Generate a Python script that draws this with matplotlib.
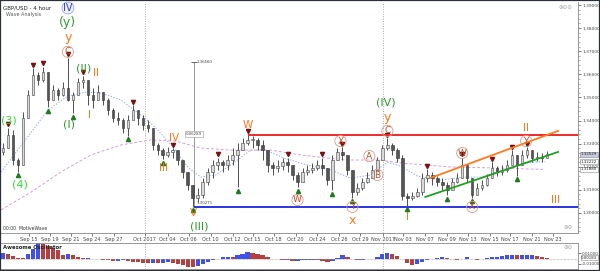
import numpy as np
import matplotlib.pyplot as plt
from matplotlib.transforms import blended_transform_factory, offset_copy
from matplotlib.patches import Rectangle

# GBP/USD 4h, one bar here = two 4h candles
closes = [1.3281, 1.3337, 1.3229, 1.3207, 1.3411, 1.3510, 1.3597, 1.3575, 1.3610, 1.3489,
          1.3532, 1.3510, 1.3541, 1.3489, 1.3510, 1.3567, 1.3575, 1.3510, 1.3489, 1.3523,
          1.3489, 1.3445, 1.3411, 1.3402, 1.3368, 1.3402, 1.3445, 1.3411, 1.3381, 1.3368,
          1.3294, 1.3272, 1.3251, 1.3264, 1.3272, 1.3229, 1.3177, 1.3121, 1.3065, 1.3077,
          1.3134, 1.3177, 1.3207, 1.3220, 1.3207, 1.3229, 1.3251, 1.3272, 1.3303, 1.3316,
          1.3316, 1.3294, 1.3272, 1.3207, 1.3194, 1.3203, 1.3220, 1.3207, 1.3164, 1.3134,
          1.3177, 1.3186, 1.3194, 1.3207, 1.3194, 1.3142, 1.3229, 1.3264, 1.3251, 1.3186,
          1.3090, 1.3108, 1.3134, 1.3151, 1.3186, 1.3229, 1.3281, 1.3294, 1.3272, 1.3238,
          1.3073, 1.3065, 1.3073, 1.3090, 1.3151, 1.3164, 1.3151, 1.3134, 1.3121, 1.3099,
          1.3134, 1.3151, 1.3207, 1.3151, 1.3077, 1.3108, 1.3121, 1.3151, 1.3194, 1.3177,
          1.3186, 1.3207, 1.3251, 1.3207, 1.3251, 1.3272, 1.3238, 1.3242, 1.3238, 1.3253]
highs = [1.3303, 1.3368, 1.3359, 1.3238, 1.3437, 1.3532, 1.3627, 1.3610, 1.3632, 1.3575,
         1.3554, 1.3541, 1.3567, 1.3671, 1.3523, 1.3584, 1.3593, 1.3575, 1.3541, 1.3554,
         1.3523, 1.3497, 1.3454, 1.3437, 1.3411, 1.3424, 1.3467, 1.3445, 1.3424, 1.3402,
         1.3368, 1.3303, 1.3281, 1.3285, 1.3281, 1.3272, 1.3229, 1.3177, 1.3121, 1.3108,
         1.3151, 1.3194, 1.3229, 1.3238, 1.3229, 1.3251, 1.3281, 1.3303, 1.3324, 1.3338,
         1.3333, 1.3324, 1.3316, 1.3251, 1.3220, 1.3229, 1.3238, 1.3238, 1.3207, 1.3177,
         1.3194, 1.3207, 1.3216, 1.3229, 1.3238, 1.3186, 1.3251, 1.3281, 1.3285, 1.3251,
         1.3164, 1.3129, 1.3151, 1.3177, 1.3207, 1.3242, 1.3294, 1.3324, 1.3303, 1.3281,
         1.3251, 1.3086, 1.3090, 1.3108, 1.3173, 1.3190, 1.3177, 1.3160, 1.3151, 1.3134,
         1.3151, 1.3173, 1.3238, 1.3207, 1.3142, 1.3129, 1.3142, 1.3168, 1.3220, 1.3203,
         1.3207, 1.3229, 1.3272, 1.3251, 1.3272, 1.3285, 1.3272, 1.3264, 1.3259, 1.3268]
lows = [1.3251, 1.3281, 1.3207, 1.3177, 1.3207, 1.3411, 1.3523, 1.3554, 1.3567, 1.3458,
        1.3497, 1.3489, 1.3506, 1.3485, 1.3432, 1.3510, 1.3541, 1.3467, 1.3454, 1.3489,
        1.3467, 1.3424, 1.3394, 1.3381, 1.3346, 1.3333, 1.3411, 1.3381, 1.3359, 1.3350,
        1.3272, 1.3251, 1.3233, 1.3242, 1.3238, 1.3207, 1.3151, 1.3099, 1.3027, 1.3047,
        1.3065, 1.3121, 1.3151, 1.3186, 1.3177, 1.3186, 1.3207, 1.3112, 1.3272, 1.3294,
        1.3281, 1.3272, 1.3229, 1.3177, 1.3164, 1.3177, 1.3186, 1.3177, 1.3142, 1.3112,
        1.3142, 1.3164, 1.3173, 1.3186, 1.3164, 1.3121, 1.3099, 1.3238, 1.3229, 1.3164,
        1.3065, 1.3077, 1.3099, 1.3129, 1.3151, 1.3186, 1.3229, 1.3272, 1.3251, 1.3220,
        1.3056, 1.3030, 1.3056, 1.3069, 1.3077, 1.3134, 1.3121, 1.3116, 1.3099, 1.3077,
        1.3099, 1.3129, 1.3151, 1.3134, 1.3065, 1.3082, 1.3099, 1.3116, 1.3151, 1.3160,
        1.3164, 1.3177, 1.3207, 1.3160, 1.3220, 1.3238, 1.3220, 1.3225, 1.3220, 1.3238]
first_open = 1.3262

# awesome oscillator, same bars
ao = [0.0100, 0.0073, 0.0046, 0.0018, 0.0009, 0.0082, 0.0173, 0.0282, 0.0255, 0.0228,
      0.0191, 0.0155, 0.0064, 0.0082, 0.0055, 0.0027, 0.0009, 0.0018, 0.0000, -0.0018,
      -0.0027, -0.0036, -0.0046, -0.0046, -0.0036, -0.0046, -0.0055, -0.0064, -0.0073, -0.0082,
      -0.0082, -0.0085, -0.0073, -0.0064, -0.0073, -0.0100, -0.0127, -0.0146, -0.0155, -0.0137,
      -0.0100, -0.0064, -0.0027, 0.0000, 0.0027, 0.0036, 0.0027, 0.0064, 0.0091, 0.0118,
      0.0109, 0.0082, 0.0055, 0.0027, 0.0000, -0.0018, -0.0036, -0.0036, -0.0046, -0.0046,
      -0.0036, -0.0027, -0.0027, -0.0036, -0.0046, -0.0064, -0.0046, 0.0009, 0.0064, 0.0036,
      -0.0009, -0.0036, -0.0036, -0.0018, 0.0000, 0.0036, 0.0082, 0.0100, 0.0091, 0.0046,
      -0.0018, -0.0082, -0.0118, -0.0100, -0.0064, -0.0027, 0.0000, 0.0018, 0.0027, 0.0018,
      -0.0009, -0.0027, -0.0009, 0.0027, 0.0000, -0.0027, -0.0018, 0.0009, 0.0027, 0.0036,
      0.0046, 0.0055, 0.0064, 0.0055, 0.0055, 0.0064, 0.0064, 0.0046, 0.0027, 0.0018]

# moving averages read at a few bars
fast_ma_bars = [-0.4, 9, 13, 16.6, 19.6, 23.6, 28.2, 31, 34.2, 37, 39.6, 42.6, 45.6, 49.6, 52.6,
                56.2, 61, 65.6, 69.6, 73.6, 77, 79.6, 83, 87.6, 92.2, 95.6, 100.2, 104.2, 108.6]
fast_ma = [1.3177, 1.3445, 1.3506, 1.3523, 1.3519, 1.3489, 1.3415, 1.3359, 1.3281, 1.3199,
           1.3155, 1.3164, 1.3207, 1.3272, 1.3272, 1.3238, 1.3207, 1.3186, 1.3151, 1.3164,
           1.3220, 1.3203, 1.3160, 1.3142, 1.3155, 1.3155, 1.3186, 1.3216, 1.3222]
slow_ma_bars = [-0.4, 5.6, 11.6, 17.6, 23.6, 29.6, 34.6, 39.6, 45.6, 53.6, 59.6, 68.6, 75.6,
                79.6, 89.6, 99.6, 108.6]
slow_ma = [1.3013, 1.3090, 1.3177, 1.3251, 1.3294, 1.3316, 1.3311, 1.3281, 1.3272, 1.3272,
           1.3251, 1.3229, 1.3229, 1.3216, 1.3199, 1.3194, 1.3188]

# fractal marks (bar numbers)
top_bars = [1, 6, 8, 13, 16, 26, 34, 43, 49, 57, 64, 68, 77, 85, 92, 98, 102, 105]
bottom_bars = [3, 9, 14, 25, 32, 38, 47, 59, 66, 70, 81, 89, 94, 103]

resistance = 1.3338
support = 1.3027
upper_channel = ([85.6, 111.2], [1.3151, 1.3355])
lower_channel = ([84.6, 111.2], [1.3069, 1.3264])

date_labels = ["Sep 15", "Sep 19", "Sep 21", "Sep 24", "Sep 27", "Oct 2017", "Oct 04", "Oct 06",
               "Oct 10", "Oct 12", "Oct 15", "Oct 18", "Oct 20", "Oct 24", "Oct 26", "Oct 29",
               "Nov 2017", "Nov 03", "Nov 07", "Nov 09", "Nov 13", "Nov 15", "Nov 17", "Nov 21",
               "Nov 23"]
date_bars = [5.2, 9.4, 13.6, 17.8, 22.2, 28.4, 33, 37.2, 41.6, 46, 50, 54.2, 58.6, 63, 67.4,
             71.6, 76.2, 80.2, 84.6, 89, 93.2, 97.6, 101.6, 106, 110.2]
month_bars = [28.4, 76.2]

x = np.arange(len(closes))
c = np.array(closes)
o = np.array([first_open] + closes[:-1])
h = np.maximum(np.array(highs), np.maximum(o, c))
l = np.minimum(np.array(lows), np.minimum(o, c))

small = ["Liberation Sans Narrow", "DejaVu Sans"]

fig = plt.figure(figsize=(6, 2.71), dpi=100)
ax = fig.add_axes([0.0017, 0.1402, 0.9617, 0.8524])
ax2 = fig.add_axes([0.0017, 0.0074, 0.9617, 0.0959], sharex=ax)

# candles
ax.vlines(x, l, h, color="#333333", lw=0.6, zorder=3)
up = c >= o
body_h = np.maximum(np.abs(c - o), 0.00025)
ax.bar(x[up], body_h[up], bottom=np.minimum(o, c)[up], width=0.5,
       color="#d9d9d9", edgecolor="#444444", lw=0.4, zorder=4)
ax.bar(x[~up], body_h[~up], bottom=np.minimum(o, c)[~up], width=0.5,
       color="#555555", edgecolor="#333333", lw=0.4, zorder=4)

ax.plot(fast_ma_bars, fast_ma, color="#8fb0f0", lw=0.7, ls=(0, (1.5, 1.5)), zorder=2)
ax.plot(slow_ma_bars, slow_ma, color="#d9a0d9", lw=0.7, ls=(0, (3, 2)), zorder=2)

# fractals
top_off = offset_copy(ax.transData, fig=fig, y=2.5, units="points")
bot_off = offset_copy(ax.transData, fig=fig, y=-2.5, units="points")
ax.plot(top_bars, h[top_bars], "v", ms=3, color="#7a1010", transform=top_off, zorder=5)
ax.plot(bottom_bars, l[bottom_bars], "^", ms=3, color="#1f7a1f", transform=bot_off, zorder=5)

# levels and channel
ax.hlines(resistance, 49, 115.2, color="#ee2a2a", lw=1.4, zorder=6)
ax.hlines(support, 38.2, 115.2, color="#2a35e0", lw=1.4, zorder=6)
ax.plot(*upper_channel, color="#ff7a1a", lw=1.3, zorder=6)
ax.plot(*lower_channel, color="#20a020", lw=1.3, zorder=6)

# measuring tool
ax.vlines(38.2, 1.3027, 1.3653, color="#999999", lw=0.7, zorder=2)
ax.hlines(1.3653, 37.6, 38.8, color="#666666", lw=0.7)
ax.text(38.8, 1.3653, "1.36560", fontsize=2.8, va="center", color="#444", family=small)
ax.text(38.2, 1.3342, "0.06289", fontsize=2.8, ha="center", va="center", color="#444",
        family=small, bbox=dict(boxstyle="square,pad=0.2", fc="white", ec="#999", lw=0.4),
        zorder=7)
ax.text(38.8, 1.3043, "1.30271", fontsize=2.8, va="center", color="#444", family=small)

for mb in month_bars:
    ax.axvline(mb, color="#aaaaaa", lw=0.7, ls=(0, (1, 1.5)), zorder=1)
    ax2.axvline(mb, color="#aaaaaa", lw=0.7, ls=(0, (1, 1.5)), zorder=1)

# wave labels
orange = "#ff7418"
dgreen = "#2f9a2f"
lgreen = "#33dd33"
brown = "#bb4d2a"
plain = [
    ("(3)", 1.2, 1.3402, lgreen, 8), ("(4)", 3.4, 1.3121, lgreen, 8),
    ("(I)", 13.2, 1.3381, dgreen, 8), ("I", 17.4, 1.3424, orange, 7.5),
    ("(II)", 16.2, 1.3627, dgreen, 8), ("II", 18.6, 1.3606, orange, 7.5),
    ("y", 13, 1.3761, orange, 9), ("(y)", 13, 1.3826, dgreen, 9),
    ("III", 32.2, 1.3194, orange, 7.5), ("IV", 34.2, 1.3324, orange, 7.5),
    ("V", 38.2, 1.3000, orange, 7.5), ("(III)", 39.4, 1.2939, dgreen, 8),
    ("W", 49, 1.3381, orange, 7.5), ("x", 70, 1.2969, orange, 9),
    ("y", 77, 1.3415, orange, 9), ("(IV)", 76.6, 1.3476, dgreen, 8),
    ("I", 81, 1.2982, orange, 7.5), ("II", 104.8, 1.3368, orange, 7.5),
    ("III", 110.6, 1.3056, orange, 7.5),
]
for txt, bx, py, col, fs in plain:
    ax.text(bx, py, txt, color=col, fontsize=fs, ha="center", va="center", zorder=8)

circled = [("C", 13, 1.3697), ("W", 59, 1.3056), ("X", 67.6, 1.3311), ("Y", 70, 1.3026),
           ("A", 73.4, 1.3246), ("B", 75, 1.3164), ("C", 77, 1.3355), ("W", 92, 1.3259),
           ("X", 94, 1.3026), ("Y", 104.8, 1.3311)]
for txt, bx, py in circled:
    ax.text(bx, py, txt, color=brown, fontsize=6.5, ha="center", va="center", zorder=8,
            bbox=dict(boxstyle="circle,pad=0.12", fc="none", ec="#dc9a85", lw=0.6))
ax.text(13, 1.3887, "IV", color="#2a3fd0", fontsize=7, ha="center", va="center", zorder=8,
        bbox=dict(boxstyle="circle,pad=0.1", fc="#eef0ff", ec="#9aa8f0", lw=0.6))

# header texts
ax.text(0.004, 0.985, "GBP/USD - 4 hour", transform=ax.transAxes, fontsize=4, va="top",
        color="#222")
ax.text(0.008, 0.955, "Wave Analysis", transform=ax.transAxes, fontsize=3.5, va="top",
        color="#555")
ax.text(0.004, 0.01, "00:00  MotiveWave", transform=ax.transAxes, fontsize=3.3, va="bottom",
        color="#333")
ax.text(0.99, 0.985, "\u2295\u2296\u2296", transform=ax.transAxes, fontsize=4, va="top",
        ha="right", color="#aaa")
ax.text(0.99, 0.015, "\u2295\u2296", transform=ax.transAxes, fontsize=4, va="bottom",
        ha="right", color="#aaa")

# axes setup
ax.set_xlim(-0.4, 115.2)
ax.set_ylim(1.2913, 1.3913)
ax.yaxis.tick_right()
ax.set_yticks(np.arange(1.30, 1.3901, 0.01))
ax.set_yticklabels([f"{v:.5f}" for v in np.arange(1.30, 1.3901, 0.01)], family=small)
ax.set_yticks(np.arange(1.292, 1.391, 0.002), minor=True)
ax.tick_params(axis="y", which="major", labelsize=3.2, length=2, width=0.5, colors="#444", pad=1)
ax.tick_params(axis="y", which="minor", length=1.2, width=0.4, colors="#777")
ax.set_xticks(date_bars)
ax.set_xticklabels(date_labels, family=small)
ax.tick_params(axis="x", labelsize=3.6, length=2, width=0.5, colors="#444", pad=1.2)
for s in ["top", "left"]:
    ax.spines[s].set_visible(False)
for s in ["right", "bottom"]:
    ax.spines[s].set_color("#888")
    ax.spines[s].set_linewidth(0.6)

# right side price boxes
bt = blended_transform_factory(ax.transAxes, ax.transData)
boxes = [("1.32529", 1.3253, "#c8cce0"), ("1.32222", 1.3222, "white"), ("1.31880", 1.3188, "white")]
for txt, py, fc in boxes:
    ax.text(1.005, py, txt, transform=bt, fontsize=2.9, va="center", color="#222", family=small,
            bbox=dict(boxstyle="square,pad=0.12", fc=fc, ec="#888", lw=0.4), clip_on=False)

# awesome oscillator
a = np.array(ao)
rising = np.r_[True, np.diff(a) >= 0]
ax2.bar(x, a, width=0.85, color=np.where(rising, "#4050e8", "#b54040"), lw=0)
ax2.axhline(0, color="#999", lw=0.5, ls=(0, (1, 1)))
ax2.set_ylim(-0.0191, 0.0282)
ax2.yaxis.tick_right()
ax2.set_yticks([-0.01, 0.01])
ax2.set_yticklabels(["-0.01000", "0.01000"], family=small)
ax2.tick_params(axis="y", labelsize=3.0, length=2, width=0.5, colors="#444", pad=1)
ax2.tick_params(axis="x", bottom=False, labelbottom=False)
ax2.spines["left"].set_visible(False)
for s in ["right", "bottom", "top"]:
    ax2.spines[s].set_color("#888")
    ax2.spines[s].set_linewidth(0.6)
ax2.text(0.004, 0.93, "Awesome Oscillator", transform=ax2.transAxes, fontsize=3.8,
         va="top", color="#222", fontweight="bold")
bt2 = blended_transform_factory(ax2.transAxes, ax2.transData)
ax2.text(1.005, 0.0018, "0.00183", transform=bt2, fontsize=2.8, va="center", color="#222",
         family=small, bbox=dict(boxstyle="square,pad=0.1", fc="white", ec="#888", lw=0.4),
         clip_on=False)
ax2.text(0.99, 0.93, "\u2295\u2296", transform=ax2.transAxes, fontsize=4, va="top",
         ha="right", color="#aaa")

fig.patches.append(Rectangle((0, 0), 1, 1, transform=fig.transFigure, fill=False,
                             ec="#2a2f3a", lw=1.6))

fig.savefig("out.png", dpi=100, facecolor="white")
